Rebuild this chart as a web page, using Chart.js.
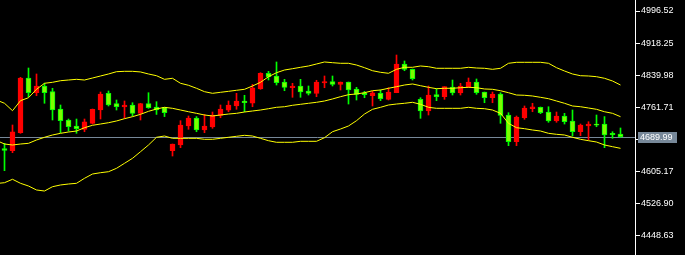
<!DOCTYPE html>
<html>
<head>
<meta charset="utf-8">
<script src="https://cdn.jsdelivr.net/npm/chart.js@4.4.0/dist/chart.umd.min.js"></script>
<style>
  html, body { margin: 0; padding: 0; background: #000; overflow: hidden; }
  canvas { display: block; }
</style>
</head>
<body>
<canvas id="chart" width="685" height="255"></canvas>
<script>
// OHLC per bar (oldest first)
const opens = [
  4660.9, 4655.6, 4699.5, 4833.0, 4797.1, 4813.5, 4799.6, 4757.3, 4730.5, 4715.9,
  4707.8, 4722.4, 4754.9, 4795.6, 4770.3, 4762.2, 4767.1, 4746.8, 4770.3, 4762.2,
  4761.5, 4655.6, 4669.5, 4715.9, 4735.4, 4706.1, 4713.4, 4741.9, 4754.2, 4764.7,
  4776.9, 4771.3, 4806.2, 4844.5, 4837.9, 4823.2, 4809.3, 4813.5, 4801.3, 4795.6,
  4820.8, 4824.0, 4817.6, 4823.2, 4806.2, 4797.1, 4789.8, 4795.6, 4781.0, 4797.1,
  4867.2, 4854.2, 4781.0, 4752.9, 4792.3, 4787.4, 4811.0, 4796.4, 4811.8, 4823.2,
  4798.8, 4784.9, 4794.0, 4742.7, 4677.5, 4736.1, 4758.1, 4761.5, 4750.0, 4728.5,
  4740.3, 4728.1, 4701.9, 4715.9, 4720.7, 4720.7, 4698.0, 4696.3
];
const highs = [
  4673.6, 4718.3, 4834.7, 4857.4, 4842.8, 4820.1, 4807.9, 4767.1, 4732.9, 4732.9,
  4732.9, 4757.3, 4798.8, 4801.3, 4779.3, 4776.9, 4772.7, 4771.3, 4797.1, 4775.2,
  4761.5, 4671.9, 4728.8, 4740.3, 4738.8, 4744.1, 4750.0, 4767.1, 4776.9, 4795.6,
  4790.8, 4817.6, 4845.9, 4849.3, 4872.1, 4829.8, 4820.1, 4829.8, 4813.5, 4827.4,
  4837.9, 4837.9, 4823.2, 4823.2, 4810.3, 4800.5, 4800.5, 4803.7, 4809.3, 4889.1,
  4874.5, 4855.0, 4784.9, 4813.5, 4806.9, 4811.8, 4828.1, 4820.1, 4833.0, 4830.6,
  4798.8, 4798.8, 4797.1, 4748.3, 4740.3, 4764.7, 4771.3, 4762.2, 4762.9, 4750.0,
  4746.8, 4754.9, 4720.7, 4726.3, 4742.7, 4738.8, 4701.9, 4711.0
];
const lows = [
  4606.8, 4650.7, 4698.0, 4787.4, 4789.8, 4771.3, 4730.5, 4699.5, 4703.6, 4698.0,
  4701.9, 4720.7, 4732.9, 4764.7, 4754.9, 4734.6, 4740.3, 4730.5, 4759.0, 4744.1,
  4738.8, 4642.6, 4662.9, 4707.8, 4701.9, 4699.5, 4710.2, 4736.1, 4750.7, 4756.6,
  4750.7, 4762.9, 4805.4, 4828.1, 4815.9, 4802.0, 4785.9, 4785.9, 4791.5, 4787.4,
  4809.3, 4813.5, 4803.7, 4769.5, 4779.3, 4784.9, 4764.7, 4777.6, 4779.3, 4797.1,
  4850.8, 4828.1, 4734.6, 4742.7, 4777.6, 4781.0, 4791.5, 4791.5, 4810.3, 4793.2,
  4772.7, 4772.7, 4722.4, 4667.8, 4667.8, 4732.2, 4750.7, 4745.9, 4724.9, 4724.9,
  4720.7, 4691.4, 4692.2, 4681.7, 4714.1, 4662.9, 4685.8, 4688.3
];
const closes = [
  4656.1, 4701.9, 4833.0, 4797.1, 4813.5, 4797.1, 4754.9, 4728.8, 4714.1, 4709.3,
  4726.3, 4756.6, 4794.0, 4767.1, 4762.9, 4767.1, 4746.8, 4770.3, 4760.5, 4754.9,
  4748.3, 4671.9, 4718.3, 4735.4, 4706.1, 4715.9, 4742.7, 4757.3, 4767.1, 4776.9,
  4772.7, 4809.3, 4844.5, 4836.2, 4821.5, 4810.3, 4813.5, 4798.8, 4795.6, 4823.2,
  4824.0, 4817.6, 4823.2, 4803.7, 4793.2, 4792.3, 4797.1, 4782.5, 4798.8, 4867.2,
  4854.2, 4831.3, 4752.9, 4791.5, 4787.4, 4811.8, 4796.4, 4813.5, 4823.2, 4797.1,
  4784.9, 4794.0, 4741.9, 4677.5, 4737.8, 4759.8, 4762.9, 4748.3, 4728.5, 4740.3,
  4726.3, 4701.9, 4718.3, 4720.7, 4717.6, 4693.9, 4694.6, 4689.99
];

// Bollinger bands, first value belongs to the bar just off the left edge
const upperBand = [
  4779.3, 4771.3, 4753.2, 4777.6, 4784.9, 4805.4, 4820.1, 4822.5, 4826.4, 4828.1, 4829.8,
  4828.1, 4833.0, 4837.9, 4842.8, 4848.4, 4849.3, 4849.3, 4847.8, 4842.8, 4838.6,
  4829.8, 4832.3, 4820.1, 4815.2, 4807.9, 4799.6, 4795.6, 4798.1, 4800.5, 4803.0,
  4805.4, 4813.5, 4822.5, 4836.2, 4845.9, 4852.5, 4855.7, 4859.1, 4862.3, 4867.2,
  4872.1, 4870.4, 4868.9, 4868.9, 4864.7, 4858.2, 4850.8, 4846.9, 4844.5, 4854.2,
  4859.1, 4859.1, 4862.3, 4860.6, 4856.7, 4856.7, 4856.7, 4856.7, 4859.1, 4857.4,
  4856.7, 4854.2, 4856.7, 4868.9, 4871.3, 4871.3, 4871.3, 4871.3, 4868.9, 4858.2,
  4850.1, 4842.8, 4838.6, 4837.9, 4836.2, 4832.3, 4825.7, 4815.9
];
const middleBand = [
  4680.5, 4671.9, 4669.5, 4671.9, 4673.6, 4681.7, 4688.3, 4693.9, 4698.0, 4701.2, 4703.6,
  4711.7, 4717.6, 4720.7, 4723.9, 4728.1, 4733.7, 4738.6, 4744.4, 4751.7, 4757.3,
  4761.5, 4759.0, 4754.9, 4750.7, 4746.8, 4742.7, 4740.3, 4742.7, 4745.1, 4746.8,
  4750.0, 4752.5, 4754.9, 4758.1, 4761.5, 4762.9, 4766.4, 4768.8, 4771.3, 4773.7,
  4776.9, 4781.8, 4787.4, 4792.3, 4794.0, 4797.1, 4802.0, 4803.7, 4807.9, 4811.8,
  4815.9, 4818.4, 4814.2, 4810.3, 4806.9, 4807.9, 4807.9, 4809.3, 4810.3, 4809.3,
  4806.2, 4805.4, 4802.0, 4797.1, 4791.5, 4790.8, 4789.1, 4785.9, 4782.5, 4776.9,
  4771.3, 4764.7, 4762.9, 4759.8, 4756.6, 4750.7, 4746.8, 4738.6
];
const lowerBand = [
  4575.5, 4577.5, 4585.8, 4576.0, 4569.4, 4559.7, 4557.2, 4567.7, 4571.9, 4574.3, 4576.0,
  4588.2, 4598.7, 4601.9, 4604.3, 4612.6, 4624.8, 4637.0, 4653.1, 4669.5, 4688.3,
  4691.4, 4685.8, 4685.8, 4685.8, 4685.8, 4683.4, 4683.4, 4685.8, 4688.3, 4690.7,
  4693.1, 4691.4, 4685.8, 4680.0, 4676.1, 4676.1, 4676.1, 4678.5, 4678.5, 4678.5,
  4687.3, 4701.9, 4708.5, 4715.9, 4728.8, 4745.1, 4756.6, 4761.5, 4767.1, 4769.5,
  4771.3, 4773.7, 4768.8, 4761.5, 4759.0, 4759.0, 4759.0, 4759.0, 4761.5, 4759.0,
  4758.1, 4754.9, 4746.8, 4722.4, 4711.7, 4709.3, 4706.1, 4703.6, 4698.0, 4695.6,
  4693.9, 4688.3, 4683.4, 4680.0, 4676.8, 4669.5, 4665.4, 4661.4
];

// Price axis ticks
const yTicks = [4448.63, 4526.90, 4605.17, 4683.44, 4761.71, 4839.98, 4918.25, 4996.52];

const lastPrice = closes[closes.length - 1];

const UP = '#ff0000';
const DOWN_LINE = '#00ff00';
const DOWN_FILL = '#7cfc00';
const BAND = '#ffff00';
const PRICE_LINE = '#778899';

const isUp = opens.map((o, i) => closes[i] >= o);

function band(values) {
  return {
    type: 'line',
    data: values.map((v, i) => ({ x: i - 1, y: v })),
    borderColor: BAND,
    borderWidth: 1,
    pointRadius: 0,
    tension: 0,
    fill: false,
    order: 1
  };
}

// grey line at the last close plus its label on the price axis
const priceLinePlugin = {
  id: 'priceLine',
  beforeDatasetsDraw(chart) {
    const { ctx, chartArea, scales } = chart;
    const py = Math.round(scales.y.getPixelForValue(lastPrice)) + 0.5;
    ctx.save();
    ctx.strokeStyle = PRICE_LINE;
    ctx.lineWidth = 1;
    ctx.beginPath();
    ctx.moveTo(chartArea.left, py);
    ctx.lineTo(chartArea.right, py);
    ctx.stroke();
    ctx.restore();
  },
  afterDraw(chart) {
    const { ctx, chartArea, scales } = chart;
    const py = Math.round(scales.y.getPixelForValue(lastPrice));
    ctx.save();
    ctx.fillStyle = PRICE_LINE;
    ctx.fillRect(chartArea.right + 3, py - 5, 39, 11);
    ctx.fillStyle = '#ffffff';
    ctx.font = '9px "Liberation Sans", Arial, sans-serif';
    ctx.textBaseline = 'middle';
    ctx.textAlign = 'left';
    ctx.fillText(lastPrice.toFixed(2), chartArea.right + 5, py + 0.5);
    ctx.restore();
  }
};

new Chart(document.getElementById('chart').getContext('2d'), {
  type: 'bar',
  data: {
    datasets: [
      band(upperBand),
      band(middleBand),
      band(lowerBand),
      {
        // candle bodies
        data: opens.map((o, i) => ({ x: i, y: [o, closes[i]] })),
        backgroundColor: isUp.map(u => u ? UP : DOWN_FILL),
        borderColor: isUp.map(u => u ? UP : DOWN_LINE),
        borderWidth: 1,
        borderSkipped: false,
        barThickness: 5,
        minBarLength: 1,
        grouped: false,
        order: 2
      },
      {
        // wicks
        data: highs.map((h, i) => ({ x: i, y: [lows[i], h] })),
        backgroundColor: isUp.map(u => u ? UP : DOWN_LINE),
        borderWidth: 0,
        barThickness: 1,
        grouped: false,
        order: 3
      }
    ]
  },
  options: {
    responsive: false,
    animation: false,
    devicePixelRatio: 1,
    layout: { padding: 0 },
    plugins: {
      legend: { display: false },
      tooltip: { enabled: false }
    },
    scales: {
      x: {
        type: 'linear',
        display: false,
        offset: false,
        min: -0.5625,
        max: 78.8125
      },
      y: {
        position: 'right',
        min: 4401.02,
        max: 5023.37,
        afterBuildTicks: axis => {
          axis.ticks = yTicks.map(v => ({ value: v }));
        },
        afterFit: axis => {
          axis.width = 50;
          axis.paddingTop = 0;
          axis.paddingBottom = 0;
        },
        ticks: {
          color: '#ffffff',
          padding: 1,
          font: { family: '"Liberation Sans", Arial, sans-serif', size: 9 },
          callback: v => Number(v).toFixed(2)
        },
        grid: {
          drawOnChartArea: false,
          drawTicks: true,
          tickLength: 5,
          color: '#ffffff'
        },
        border: { display: true, color: '#ffffff', width: 1 }
      }
    }
  },
  plugins: [priceLinePlugin]
});
</script>
</body>
</html>
